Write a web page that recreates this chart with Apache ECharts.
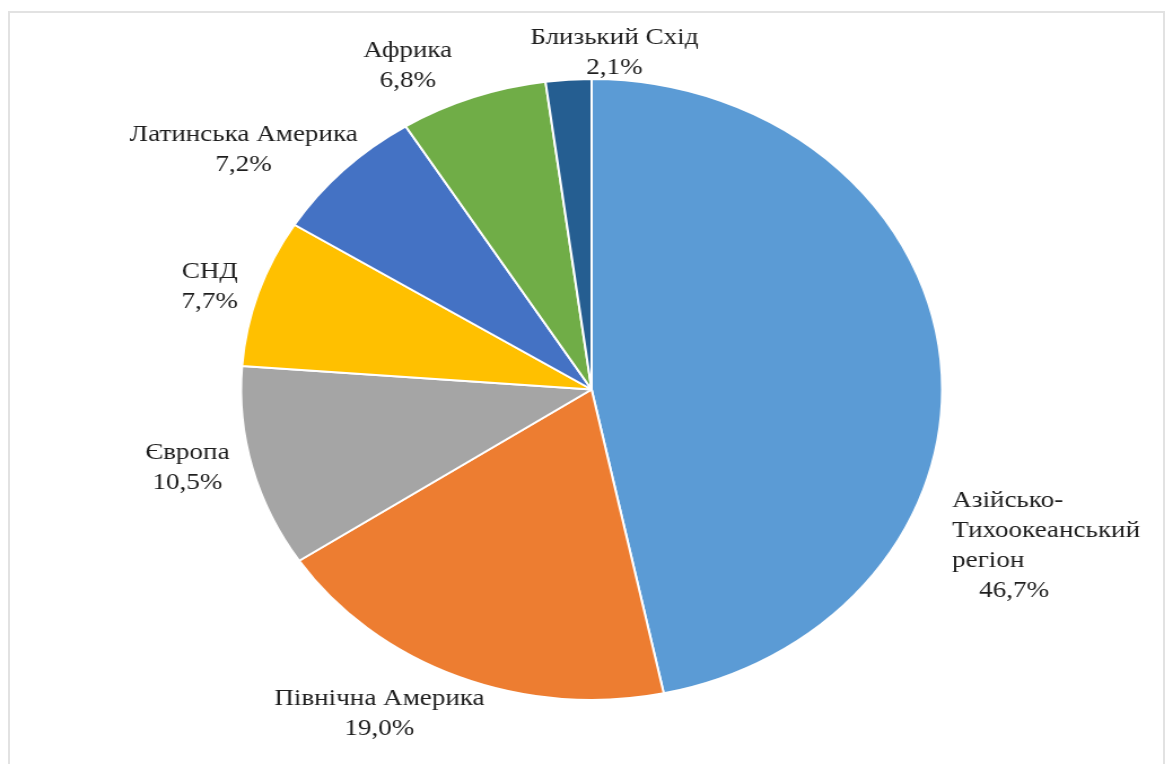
<!DOCTYPE html>
<html>
<head>
<meta charset="utf-8">
<script src="https://cdn.jsdelivr.net/npm/echarts@6/dist/echarts.min.js"></script>
<style>
  html, body { margin: 0; padding: 0; background: #fff; overflow: hidden; }
  .frame {
    position: absolute; left: 8px; top: 11px; width: 1157px; height: 770px;
    border: 2px solid #e2e2e2; border-bottom: none; box-sizing: border-box;
  }
  /* the source picture is stretched sideways, so the chart is drawn narrow and scaled */
  #chart {
    position: absolute; left: 0; top: 0; width: 1038px; height: 764px;
    transform: scaleX(1.129); transform-origin: 0 0;
  }
</style>
</head>
<body>
<div class="frame"></div>
<div id="chart"></div>
<script>
const categories = [
  'Азійсько-Тихоокеанський регіон',
  'Північна Америка',
  'Європа',
  'СНД',
  'Латинська Америка',
  'Африка',
  'Близький Схід'
]
const shares = [46.7, 19.0, 10.5, 7.7, 7.2, 6.8, 2.1]
const colors = ['#5b9bd5', '#ed7d31', '#a5a5a5', '#ffc000', '#4472c4', '#70ad47', '#255e91']

const CX = 524
const CY = 389.5
const R = 310.5
const FONT = '"Liberation Serif", "DejaVu Serif", serif'

// mid angle of each slice, degrees clockwise from 12 o'clock
const total = shares.reduce((a, b) => a + b, 0)
const mids = []
let acc = 0
shares.forEach((v) => {
  mids.push(((acc + v / 2) / total) * 360)
  acc += v
})

// how Excel moved each label away from the slice middle: [extra degrees, distance past the rim]
const labelNudge = [[32, 45], [7.8, 64], [2.2, 56], [-1.3, 43], [-7.1, 80], [-6.9, 52], [7.2, 27]]

const fmt = (v) => v.toFixed(1).replace('.', ',') + '%'

const myChart = echarts.init(document.getElementById('chart'))

const textStyle = {
  fontFamily: FONT,
  fontSize: 24,
  lineHeight: 30,
  color: '#1e1e1e'
}

const option = {
  animation: false,
  color: colors,
  textStyle: { fontFamily: FONT },
  series: [
    {
      type: 'pie',
      center: [CX, CY],
      radius: R,
      startAngle: 90,
      clockwise: true,
      avoidLabelOverlap: false,
      itemStyle: { borderColor: '#fff', borderWidth: 2 },
      emphasis: { disabled: true },
      label: {
        show: true,
        position: 'outside',
        ...textStyle,
        formatter: (p) => {
          if (p.name.length > 20) {
            const name = p.name.replace('-', '-\n').replace(' ', '\n')
            return name + '\n{p|' + fmt(p.value) + '}'
          }
          return p.name + '\n' + fmt(p.value)
        },
        rich: {
          p: { ...textStyle, padding: [0, 0, 0, 24] }
        }
      },
      labelLine: { show: false },
      labelLayout: (p) => {
        const i = p.dataIndex
        const a = ((mids[i] + labelNudge[i][0]) * Math.PI) / 180
        const d = R + labelNudge[i][1]
        return {
          x: CX + d * Math.sin(a),
          y: CY - d * Math.cos(a),
          align: i === 0 ? 'left' : 'center',
          verticalAlign: 'middle'
        }
      },
      data: categories.map((name, i) => ({ name, value: shares[i] }))
    }
  ]
}

myChart.setOption(option)
</script>
</body>
</html>
